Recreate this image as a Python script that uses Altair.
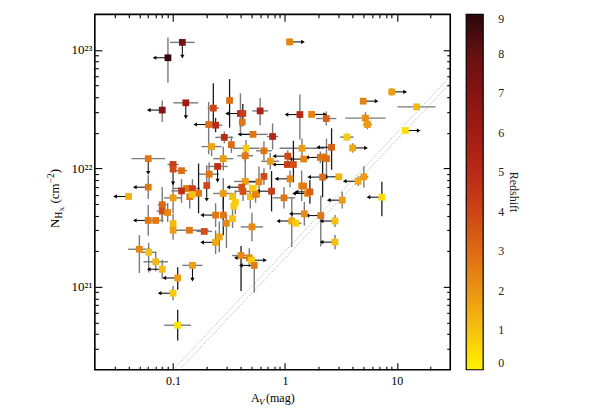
import altair as alt
import pandas as pd

# ---------------- data ----------------
# A_V (mag)
AV = [0.121, 0.090, 0.080, 0.130, 0.229, 0.320, 0.40, 0.42, 0.415, 0.60,
      0.208, 0.24, 0.287, 0.332, 0.518, 0.775, 0.221, 0.449, 0.649, 1.10,
      9.0, 5.0, 15.0, 11.9, 1.36, 1.73, 2.34, 5.24, 5.46, 3.58,
      0.442, 1.42, 2.61, 1.06, 0.739, 1.05, 1.19, 1.47, 2.07, 2.23,
      2.35, 4.02, 0.649, 0.586, 1.11, 2.17, 3.03, 4.51, 5.07, 0.442,
      0.521, 0.411, 0.759, 0.98, 1.41, 1.47, 1.59, 1.67, 0.49, 0.546,
      3.25, 7.35, 1.49, 2.09, 1.15, 1.25, 2.8, 2.8, 0.507, 0.405,
      0.48, 0.503, 0.532, 0.060, 0.100, 0.100, 0.119, 0.060, 0.040, 0.080,
      0.080, 0.0895, 0.100, 0.060, 0.070, 0.100, 0.100, 0.140, 0.190, 0.050,
      0.0605, 0.070, 0.080, 0.110, 0.100, 0.110, 0.149, 0.281, 0.25, 0.21,
      0.20, 0.132, 0.149, 0.119, 0.141, 0.169, 0.148, 0.281, 0.34, 0.36,
      0.349, 0.422, 0.24, 0.281, 0.30, 0.34, 0.259, 0.24]
# N_H,X (cm^-2)
NH = [1.16e23, 8.6e22, 3.11e22, 3.58e22, 3.23e22, 3.75e22, 2.91e22, 2.91e22, 2.46e22, 3.06e22,
      2.35e22, 2.32e22, 1.83e22, 1.59e22, 1.94e22, 1.86e22, 1.53e22, 1.48e22, 1.41e22, 1.17e23,
      4.43e22, 3.70e22, 3.31e22, 2.09e22, 2.85e22, 2.86e22, 2.64e22, 2.66e22, 2.35e22, 1.84e22,
      1.28e22, 1.48e22, 1.51e22, 1.27e22, 1.15e22, 1.08e22, 1.08e22, 1.20e22, 1.24e22, 1.25e22,
      1.21e22, 1.49e22, 8.56e21, 7.7e21, 8.17e21, 8.45e21, 8.5e21, 7.8e21, 8.5e21, 7.77e21,
      6.78e21, 6.95e21, 6.43e21, 5.65e21, 7.13e21, 7.09e21, 6.15e21, 6.34e21, 5.78e21, 6.03e21,
      5.4e21, 5.72e21, 4.14e21, 4.0e21, 3.6e21, 3.45e21, 3.6e21, 2.39e21, 3.21e21, 1.84e21,
      1.76e21, 1.68e21, 1.52e21, 1.21e22, 1.08e22, 9.87e21, 9.58e21, 6.95e21, 5.8e21, 4.94e21,
      4.36e21, 4.25e21, 5.65e21, 3.64e21, 3.64e21, 3.43e21, 3.01e21, 3.01e21, 2.94e21, 2.08e21,
      1.96e21, 1.63e21, 1.41e21, 1.19e21, 8.85e20, 4.75e20, 1.52e21, 1.21e22, 1.04e22, 8.95e21,
      7.18e21, 6.78e21, 6.75e21, 6.46e21, 5.78e21, 6.18e21, 6.03e21, 6.15e21, 5.78e21, 5.19e21,
      4.81e21, 6.4e21, 4.04e21, 4.04e21, 3.45e21, 3.77e21, 2.64e21, 2.38e21]
# redshift
Z = [7.6, 8.8, 7.0, 6.0, 3.9, 2.9, 5.0, 4.3, 2.7, 5.6,
     2.9, 5.0, 5.0, 3.0, 2.7, 5.2, 1.6, 0.8, 2.7, 2.4,
     1.8, 2.4, 1.2, 0.4, 5.0, 2.4, 3.3, 2.1, 1.9, 0.8,
     2.7, 1.8, 3.3, 3.9, 1.9, 4.3, 3.7, 2.4, 2.7, 2.7,
     2.9, 1.5, 3.9, 2.3, 2.3, 3.0, 1.3, 1.5, 1.9, 1.8,
     0.8, 3.7, 4.2, 2.7, 2.3, 2.6, 2.3, 3.3, 1.0, 2.4,
     1.8, 0.5, 2.2, 2.7, 1.5, 0.8, 1.0, 1.0, 2.3, 2.3,
     2.3, 0.8, 2.6, 2.7, 4.3, 3.9, 2.9, 2.7, 1.4, 3.1,
     3.7, 2.3, 1.8, 2.7, 2.7, 1.2, 1.8, 2.7, 3.7, 2.3,
     1.0, 1.2, 1.1, 1.8, 0.8, 0.3, 1.8, 1.8, 4.8, 2.7,
     3.9, 2.7, 4.2, 4.8, 2.7, 2.7, 1.0, 1.8, 1.0, 0.8,
     0.8, 3.7, 2.7, 2.7, 2.3, 1.0, 1.6, 1.6]
# half-width of the A_V error bar (dex)
AV_ERR = [0.11, 0, 0, 0.11, 0.05, 0, 0, 0, 0, 0.07,
          0, 0.06, 0.08, 0, 0.13, 0.05, 0.09, 0.12, 0.07, 0,
          0, 0, 0.17, 0, 0, 0, 0.09, 0.18, 0.04, 0.06,
          0.07, 0.20, 0, 0, 0.08, 0, 0, 0, 0, 0,
          0, 0, 0, 0, 0, 0, 0, 0, 0.04, 0.10,
          0, 0, 0, 0.10, 0, 0, 0, 0, 0, 0,
          0, 0, 0, 0, 0, 0.05, 0, 0, 0.10, 0.08,
          0, 0, 0, 0.15, 0.05, 0, 0.05, 0, 0, 0.04,
          0.05, 0, 0.08, 0, 0.07, 0, 0, 0.17, 0.07, 0.10,
          0.07, 0.11, 0, 0, 0, 0.12, 0.09, 0.09, 0.09, 0.09,
          0, 0.12, 0, 0.09, 0, 0, 0, 0.09, 0, 0,
          0, 0.07, 0, 0, 0, 0, 0, 0]
# lower / upper N_H error (dex)
NH_ERR_LO = [0, 0.21, 0.10, 0, 0.14, 0.23, 0.16, 0.08, 0.04, 0.12,
             0.25, 0.06, 0.05, 0.07, 0, 0.11, 0.08, 0.07, 0.08, 0.03,
             0.03, 0, 0, 0, 0.21, 0, 0.06, 0.05, 0.04, 0.03,
             0.05, 0.08, 0.19, 0.05, 0.07, 0, 0.15, 0, 0.05, 0,
             0.17, 0.04, 0.07, 0.13, 0.07, 0.17, 0, 0.04, 0.09, 0,
             0, 0, 0.17, 0.09, 0.13, 0, 0, 0.10, 0.10, 0.07,
             0.07, 0.16, 0.10, 0.26, 0.22, 0, 0.05, 0.06, 0.12, 0.30,
             0.08, 0, 0.23, 0, 0, 0, 0, 0.10, 0, 0.15,
             0.08, 0.08, 0.13, 0.13, 0, 0.08, 0.08, 0, 0, 0.20,
             0.17, 0.08, 0.08, 0.10, 0.06, 0.13, 0, 0.10, 0, 0.10,
             0, 0, 0.08, 0.10, 0.10, 0.17, 0, 0.13, 0, 0.10,
             0, 0.08, 0.10, 0.17, 0.21, 0.08, 0.13, 0.10]
NH_ERR_HI = [0, 0.17, 0.08, 0, 0.21, 0.18, 0.17, 0.08, 0.04, 0.11,
             0.19, 0.06, 0.05, 0.07, 0, 0.11, 0, 0.07, 0.08, 0.03,
             0.03, 0, 0, 0, 0.17, 0, 0.06, 0.05, 0.04, 0.03,
             0.05, 0.08, 0.16, 0.05, 0.07, 0, 0.20, 0, 0.05, 0,
             0.17, 0.04, 0.07, 0.13, 0.07, 0.17, 0, 0.04, 0.09, 0.20,
             0, 0, 0.17, 0.09, 0.13, 0, 0, 0.10, 0.10, 0.07,
             0.07, 0.13, 0.10, 0.17, 0.20, 0, 0.05, 0.06, 0.12, 0.08,
             0.08, 0, 0.07, 0, 0, 0, 0, 0.10, 0, 0.15,
             0.08, 0.08, 0.13, 0.13, 0, 0.08, 0.08, 0, 0, 0.12,
             0.08, 0.08, 0.08, 0.09, 0.06, 0.13, 0, 0.10, 0, 0.10,
             0.17, 0, 0.08, 0.10, 0.10, 0.25, 0, 0.13, 0, 0.10,
             0, 0.08, 0.10, 0.17, 0.08, 0.08, 0.13, 0.10]
# limits: L = A_V upper limit, R = A_V lower limit, D = N_H upper limit
LIMIT = ["D", "L", "L", "D", "", "", "L", "", "", "",
         "L", "", "", "", "L", "", "", "", "", "R",
         "R", "R", "", "R", "L", "R", "", "", "", "",
         "", "", "L", "L", "", "L", "", "L", "L", "",
         "", "R", "", "L", "L", "L", "L", "L", "", "",
         "", "L", "L", "", "", "", "L", "L", "", "",
         "L", "L", "L", "L", "L", "", "L", "L", "", "",
         "L", "R", "L", "D", "", "D", "", "L", "L", "",
         "", "", "", "L", "", "", "", "", "", "",
         "", "", "L", "L", "L", "", "D", "", "D", "",
         "D", "", "", "", "", "", "", "", "", "",
         "", "", "L", "", "", "", "", "L"]
# 1 = vertical error bar drawn in black, 0 = grey
DARK_BAR = [0, 0, 0, 0, 1, 1, 0, 1, 0, 0,
            0, 1, 0, 0, 0, 0, 0, 0, 0, 0,
            0, 0, 0, 0, 0, 0, 0, 0, 0, 0,
            0, 0, 1, 0, 0, 0, 1, 0, 0, 0,
            0, 0, 0, 0, 0, 1, 0, 0, 0, 0,
            0, 0, 1, 0, 0, 0, 0, 1, 0, 0,
            0, 1, 0, 0, 0, 0, 0, 0, 0, 1,
            0, 0, 0, 0, 0, 0, 0, 0, 0, 0,
            0, 0, 0, 0, 0, 0, 0, 0, 0, 0,
            0, 0, 0, 1, 0, 1, 0, 0, 0, 0,
            0, 0, 0, 0, 0, 1, 0, 0, 0, 0,
            0, 0, 0, 1, 0, 0, 0, 0]

RATIOS = [2.0e21, 1.75e21]          # N_H / A_V of the two dotted reference lines
LINE_AV = [0.1, 30.0]

X_MAJOR = [0.1, 1, 10]
X_MINOR = [0.03, 0.04, 0.05, 0.06, 0.07, 0.08, 0.09,
           0.2, 0.3, 0.4, 0.5, 0.6, 0.7, 0.8, 0.9,
           2, 3, 4, 5, 6, 7, 8, 9, 20]
Y_MAJOR = [1e21, 1e22, 1e23]
Y_MINOR = [3e20, 4e20, 5e20, 6e20, 7e20, 8e20, 9e20,
           2e21, 3e21, 4e21, 5e21, 6e21, 7e21, 8e21, 9e21,
           2e22, 3e22, 4e22, 5e22, 6e22, 7e22, 8e22, 9e22]
Z_TICKS = [0, 1, 2, 3, 4, 5, 6, 7, 8, 9]
Z_COLORS = ["#fff200", "#f6c210", "#ea9414", "#dd6a14", "#cd4416",
            "#b92a16", "#a11c14", "#861414", "#661010", "#2a0808"]

# ---------------- tables ----------------
df = pd.DataFrame({"av": AV, "nh": NH, "z": Z, "xe": AV_ERR,
                   "ylo": NH_ERR_LO, "yhi": NH_ERR_HI, "lim": LIMIT, "dark": DARK_BAR})
df["av_lo"] = df["av"] / 10 ** df["xe"]
df["av_hi"] = df["av"] * 10 ** df["xe"]
df["nh_lo"] = df["nh"] / 10 ** df["ylo"]
df["nh_hi"] = df["nh"] * 10 ** df["yhi"]

ARROW_DEX = 0.12
arr = df[df["lim"] != ""].copy()
arr["x_end"] = arr["av"]
arr["y_end"] = arr["nh"]
arr.loc[arr["lim"] == "L", "x_end"] = arr["av"] / 10 ** ARROW_DEX
arr.loc[arr["lim"] == "R", "x_end"] = arr["av"] * 10 ** ARROW_DEX
arr.loc[arr["lim"] == "D", "y_end"] = arr["nh"] / 10 ** ARROW_DEX

lines = pd.DataFrame([{"av": a, "nh": r * a, "ratio": str(r)} for r in RATIOS for a in LINE_AV])

xbars = df[df["xe"] > 0]
ybars = df[(df["ylo"] > 0) | (df["yhi"] > 0)]
ybars_grey = ybars[ybars["dark"] == 0]
ybars_dark = ybars[ybars["dark"] == 1]

W = H = 356
FONT = "Liberation Serif"
xs = alt.Scale(type="log", domain=[0.02, 30], nice=False)
ys = alt.Scale(type="log", domain=[2e20, 2e23], nice=False)


def xaxis(orient, values, size, offset=None, labels=False):
    kw = dict(orient=orient, values=values, title=None, grid=False, domain=False,
              labels=labels, ticks=not labels, tickSize=size, tickColor="black",
              tickWidth=1.1)
    if offset is not None:
        kw["offset"] = offset
    if labels:
        kw.update(labelFont=FONT, labelFontSize=12, labelColor="black",
                  labelPadding=6, format="~g")
    return alt.Axis(**kw)


def yaxis(orient, values, size, offset=None, labels=False):
    kw = dict(orient=orient, values=values, title=None, grid=False, domain=False,
              labels=labels, ticks=not labels, tickSize=size, tickColor="black",
              tickWidth=1.1)
    if offset is not None:
        kw["offset"] = offset
    if labels:
        kw.update(labelFont=FONT, labelFontSize=13, labelColor="black", labelPadding=3,
                  labelExpr="datum.value < 5e21 ? '10²¹' : datum.value < 5e22 ? '10²²' : '10²³'")
    return alt.Axis(**kw)


diag = alt.Chart(lines).mark_line(strokeDash=[1.2, 1.8], color="#9a9a9a",
                                  strokeWidth=0.8, clip=True).encode(
    x=alt.X("av:Q", scale=xs, axis=xaxis("bottom", X_MAJOR, 0, labels=True)),
    y=alt.Y("nh:Q", scale=ys, axis=yaxis("left", Y_MAJOR, 0, labels=True)),
    detail="ratio:N")

xbar = alt.Chart(xbars).mark_rule(color="#7a7a7a", strokeWidth=1.4).encode(
    x=alt.X("av_lo:Q", scale=xs, axis=xaxis("top", X_MAJOR, 7, offset=-H)),
    x2="av_hi:Q",
    y=alt.Y("nh:Q", scale=ys, axis=yaxis("right", Y_MAJOR, 7, offset=-W)))

ybar_g = alt.Chart(ybars_grey).mark_rule(color="#7a7a7a", strokeWidth=1.4).encode(
    x=alt.X("av:Q", scale=xs, axis=xaxis("top", X_MINOR, 3.5, offset=-H)),
    y=alt.Y("nh_lo:Q", scale=ys, axis=yaxis("right", Y_MINOR, 3.5, offset=-W)),
    y2="nh_hi:Q")

ybar_d = alt.Chart(ybars_dark).mark_rule(color="#1a1a1a", strokeWidth=1.3).encode(
    x=alt.X("av:Q", scale=xs, axis=None),
    y=alt.Y("nh_lo:Q", scale=ys, axis=None),
    y2="nh_hi:Q")

arrows = alt.Chart(arr).mark_rule(color="black", strokeWidth=1).encode(
    x=alt.X("av:Q", scale=xs, axis=xaxis("bottom", X_MAJOR, 7, offset=-H)),
    x2="x_end:Q",
    y=alt.Y("nh:Q", scale=ys, axis=yaxis("left", Y_MAJOR, 7, offset=-W)),
    y2="y_end:Q")

heads = alt.Chart(arr).mark_point(filled=True, color="black", size=18, opacity=1).encode(
    x=alt.X("x_end:Q", scale=xs, axis=xaxis("bottom", X_MINOR, 3.5, offset=-H)),
    y=alt.Y("y_end:Q", scale=ys, axis=yaxis("left", Y_MINOR, 3.5, offset=-W)),
    shape=alt.Shape("lim:N", scale=alt.Scale(domain=["L", "R", "D"],
                                             range=["triangle-left", "triangle-right", "triangle-down"]),
                    legend=None))

points = alt.Chart(df).mark_square(size=46, opacity=1).encode(
    x=alt.X("av:Q", scale=xs, axis=None),
    y=alt.Y("nh:Q", scale=ys, axis=None),
    color=alt.Color("z:Q", scale=alt.Scale(domain=Z_TICKS, range=Z_COLORS),
                    legend=alt.Legend(title="Redshift", orient="right", offset=15,
                                      direction="vertical",
                                      gradientLength=H, gradientThickness=17,
                                      gradientStrokeColor="black", gradientStrokeWidth=1.2,
                                      values=Z_TICKS, format="d", labelOverlap=False,
                                      labelFont=FONT, labelFontSize=12, labelColor="#222",
                                      labelOffset=15, titleOrient="right",
                                      titleAnchor="middle", titleFont=FONT, titleFontSize=12,
                                      titleFontWeight="normal", titleColor="#222",
                                      titlePadding=3, padding=0)))

one = pd.DataFrame({"k": [0]})


def txt(s, x, y, size, angle=0, italic=False):
    return alt.Chart(one).mark_text(text=s, font=FONT, fontSize=size, color="black",
                                    fontStyle="italic" if italic else "normal",
                                    align="left", baseline="alphabetic", angle=angle).encode(
        x=alt.value(x), y=alt.value(y))


titles = [
    txt("A", 156.5, 388, 12),
    txt("V", 164.5, 391, 9, italic=True),
    txt("(mag)", 171.5, 388, 12),
    txt("N", -35.5, 214, 13, angle=270),
    txt("H", -32.5, 204.6, 9.5, angle=270),
    txt("X", -30.5, 197.7, 7, angle=270),
    txt("(cm", -35.5, 189.5, 13, angle=270),
    txt("−2", -40.5, 169.3, 9.5, angle=270),
    txt(")", -35.5, 159.2, 13, angle=270),
]

chart = alt.layer(diag, xbar, ybar_g, ybar_d, arrows, heads, points, *titles).resolve_axis(
    x="independent", y="independent"
).properties(
    width=W, height=H,
    autosize=alt.AutoSizeParams(type="none"),
    padding={"left": 87, "top": 6, "right": 140, "bottom": 41},
    background="white",
).configure_view(stroke="black", strokeWidth=1.6)

chart.save("out.html", embed_options={"renderer": "svg", "actions": False})
